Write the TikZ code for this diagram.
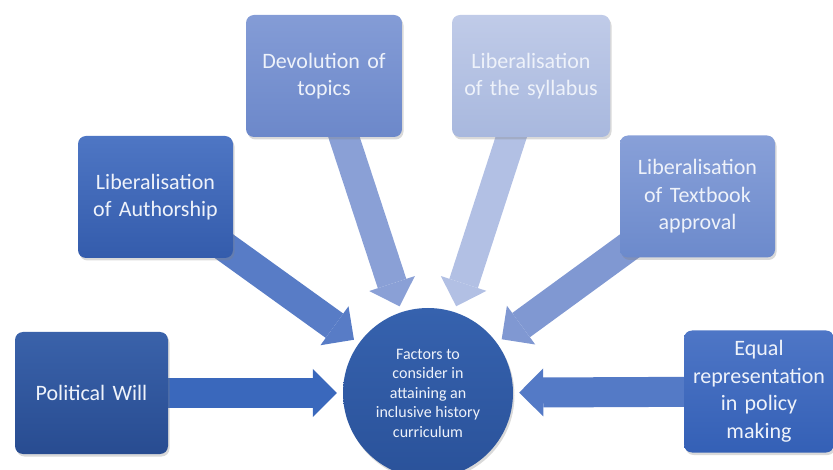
\documentclass[tikz,border=0pt]{standalone}
\usepackage{fontspec}
\setmainfont{Carlito}
\usetikzlibrary{arrows.meta,shadows}
\pgfdeclarelayer{bg}
\pgfsetlayers{bg,main}

% box fills (top / bottom of the gradient)
\definecolor{pwTop}{RGB}{58,98,170}
\definecolor{pwBot}{RGB}{40,76,145}
\definecolor{auTop}{RGB}{78,118,196}
\definecolor{auBot}{RGB}{52,92,172}
\definecolor{dvTop}{RGB}{132,156,214}
\definecolor{dvBot}{RGB}{108,136,202}
\definecolor{syTop}{RGB}{192,203,232}
\definecolor{syBot}{RGB}{168,184,222}
\definecolor{tbTop}{RGB}{136,160,216}
\definecolor{tbBot}{RGB}{108,138,204}
\definecolor{eqTop}{RGB}{78,118,198}
\definecolor{eqBot}{RGB}{52,96,182}
\definecolor{ciTop}{RGB}{54,98,174}
\definecolor{ciBot}{RGB}{42,82,154}
% arrow fills
\definecolor{pwArr}{RGB}{58,104,188}
\definecolor{auArr}{RGB}{88,124,198}
\definecolor{dvArr}{RGB}{138,160,214}
\definecolor{syArr}{RGB}{178,192,228}
\definecolor{tbArr}{RGB}{128,152,210}
\definecolor{eqArr}{RGB}{84,122,198}
\definecolor{softWhite}{RGB}{238,242,250}

\tikzset{
  factor/.style={rounded corners=8pt, minimum width=155pt, minimum height=122pt,
    text width=148pt, align=center, inner sep=0pt,
    font=\fontsize{22}{27.5}\selectfont, text=softWhite,
    drop shadow={opacity=0.3, shadow xshift=1.5pt, shadow yshift=-2.5pt}},
  hub/.style={circle, minimum size=170pt, inner sep=0pt,
    align=center, font=\fontsize{16}{19.5}\selectfont, text=softWhite,
    top color=ciTop, bottom color=ciBot,
    drop shadow={opacity=0.3, shadow xshift=1.5pt, shadow yshift=-2.5pt}},
  fat/.style={line width=30pt,
    -{Triangle[width=48pt,length=24pt,line width=0pt]},
    shorten <=-14pt, shorten >=6pt}
}

\begin{document}
\begin{tikzpicture}[x=1pt,y=-1pt]
\useasboundingbox (0,0) rectangle (833,470);

% central circle
\node[hub] (c) at (428,393)
  {Factors to\\consider in\\attaining an\\inclusive history\\curriculum};

% surrounding factors
\node[factor, top color=pwTop, bottom color=pwBot, minimum width=153pt]
  (pw) at (91.5,393) {Political Will};
\node[factor, top color=auTop, bottom color=auBot]
  (au) at (155.5,197) {Liberalisation\\of Authorship};
\node[factor, top color=dvTop, bottom color=dvBot, minimum width=156pt]
  (dv) at (324,76) {Devolution of\\topics};
\node[factor, top color=syTop, bottom color=syBot, minimum width=158pt]
  (sy) at (531,76) {Liberalisation\\of the syllabus};
\node[factor, top color=tbTop, bottom color=tbBot]
  (tb) at (697.5,196.5) {Liberalisation\\of Textbook\\approval};
\node[factor, top color=eqTop, bottom color=eqBot, minimum width=150pt]
  (eq) at (759,391.5) {Equal\\representation\\in policy\\making};

% block arrows pointing at the circle
\begin{pgfonlayer}{bg}
  \draw[fat, draw=pwArr] (pw) -- (c);
  \draw[fat, draw=auArr] (au) -- (c);
  \draw[fat, draw=dvArr] (dv) -- (c);
  \draw[fat, draw=syArr] (sy) -- (c);
  \draw[fat, draw=tbArr] (tb) -- (c);
  \draw[fat, draw=eqArr] (eq) -- (c);
\end{pgfonlayer}
\end{tikzpicture}
\end{document}
